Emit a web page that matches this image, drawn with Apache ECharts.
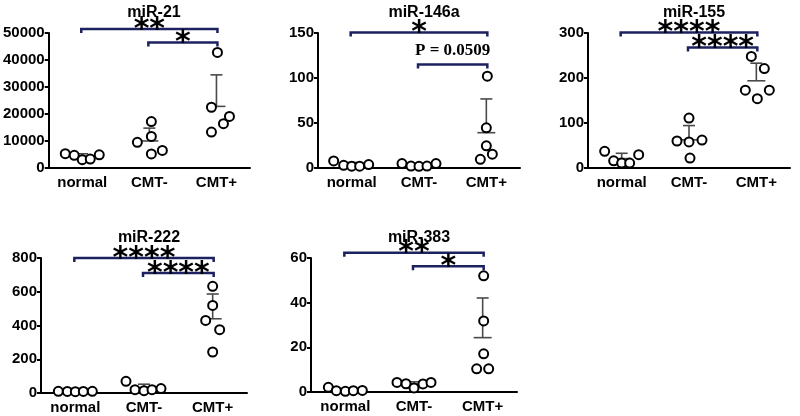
<!DOCTYPE html>
<html>
<head>
<meta charset="utf-8">
<script src="https://cdn.jsdelivr.net/npm/echarts@6/dist/echarts.min.js"></script>
<style>html,body{margin:0;padding:0;background:#fff}#c{width:800px;height:416px}</style>
</head>
<body>
<div id="c"></div>
<script>
// ---------- data ----------
const categories = ['normal', 'CMT-', 'CMT+'];
const titles = ['miR-21', 'miR-146a', 'miR-155', 'miR-222', 'miR-383'];

const mir21_normal = [5300, 4700, 3100, 3300, 4900];
const mir21_cmtMinus = [9500, 11700, 17200, 5200, 6500];
const mir21_cmtPlus = [42800, 22500, 13300, 16400, 19100];

const mir146a_normal = [7.8, 3.0, 2.0, 2.0, 3.8];
const mir146a_cmtMinus = [4.9, 2.2, 1.9, 2.2, 4.9];
const mir146a_cmtPlus = [102, 44.6, 24.6, 9.7, 15.3];

const mir155_normal = [37, 16, 11, 11, 29.6];
const mir155_cmtMinus = [111, 60, 58, 62, 22];
const mir155_cmtPlus = [248, 221, 173, 173, 154];

const mir222_normal = [10, 9, 8, 9, 10];
const mir222_cmtMinus = [69, 20, 14, 20, 26];
const mir222_cmtPlus = [632, 519, 430, 375, 243];

const mir383_normal = [2.1, 0.6, 0.3, 0.6, 0.7];
const mir383_cmtMinus = [4.3, 3.7, 1.8, 3.6, 4.3];
const mir383_cmtPlus = [52, 31.8, 17.1, 10.4, 10.4];

// y-axis tick settings
const yMax = [50000, 150, 300, 800, 60];
const yStep = [10000, 50, 100, 200, 20];

// significance annotations: [fromCat, toCat, level, label]
const sig21 = [[0, 2, 51500, '**'], [1, 2, 46500, '*']];
const sig146a = [[0, 2, 150.5, '*'], [1, 2, 115, 'P = 0.0509']];
const sig155 = [[0, 2, 301, '****'], [1, 2, 268, '****']];
const sig222 = [[0, 2, 800, '****'], [1, 2, 711, '****']];
const sig383 = [[0, 2, 62.4, '**'], [1, 2, 56.3, '*']];

// ---------- layout / style ----------
const panels = [
  [mir21_normal, mir21_cmtMinus, mir21_cmtPlus],
  [mir146a_normal, mir146a_cmtMinus, mir146a_cmtPlus],
  [mir155_normal, mir155_cmtMinus, mir155_cmtPlus],
  [mir222_normal, mir222_cmtMinus, mir222_cmtPlus],
  [mir383_normal, mir383_cmtMinus, mir383_cmtPlus]
];
const sigs = [sig21, sig146a, sig155, sig222, sig383];
// horizontal jitter in pixels (scatter spread)
const jitter = [
  [[-17, -8, 0, 8, 17], [-12, 2, 2, 2, 13], [1, -5, -5, 7, 13]],
  [[-18, -8, 0, 8, 17], [-17, -8, 0, 8, 17], [1, 0, 0, -6, 6]],
  [[-17, -8, 0, 8, 17], [0, -12, 0, 13, 1], [-5, 8, -11, 13, 1]],
  [[-17, -8, 0, 8, 17], [-18, -9, 0, 8, 17], [0, 0, -7, 7, 0]],
  [[-17, -9, 0, 8, 17], [-17, -8, 0, 9, 17], [1, 1, 1, -6, 6]]
];
const grids = [
  { left: 48, top: 33, width: 202, height: 135 },
  { left: 318, top: 33, width: 202, height: 135 },
  { left: 588, top: 33, width: 202, height: 135 },
  { left: 41, top: 258, width: 206, height: 135 },
  { left: 311, top: 258, width: 206, height: 134 }
];
const titleTop = [0, 0, 0, 225, 225];
const NAVY = '#1c2160';
const FONT = 'Liberation Sans, Arial, sans-serif';

function mean(a) { return a.reduce((s, v) => s + v, 0) / a.length; }
function sd(a) { const m = mean(a); return Math.sqrt(a.reduce((s, v) => s + (v - m) * (v - m), 0) / (a.length - 1)); }

const option = {
  backgroundColor: '#fff',
  animation: false,
  title: [], grid: [], xAxis: [], yAxis: [], series: []
};

panels.forEach((groups, i) => {
  const g = grids[i];
  option.grid.push(g);
  option.title.push({
    text: titles[i], left: g.left + g.width / 2, top: titleTop[i], textAlign: 'center',
    textStyle: { fontFamily: FONT, fontWeight: 'bold', fontSize: 16, color: '#000' }
  });
  option.xAxis.push({
    type: 'category', gridIndex: i, data: categories, boundaryGap: true,
    axisLine: { lineStyle: { color: '#000', width: 2 } },
    axisTick: { alignWithLabel: true, length: 4, lineStyle: { color: '#000', width: 2 } },
    axisLabel: { color: '#000', fontFamily: FONT, fontWeight: 'bold', fontSize: 15, margin: 7 },
    splitLine: { show: false }
  });
  option.yAxis.push({
    type: 'value', gridIndex: i, min: 0, max: yMax[i], interval: yStep[i],
    axisLine: { show: true, lineStyle: { color: '#000', width: 2 } },
    axisTick: { show: true, length: 4, lineStyle: { color: '#000', width: 2 } },
    axisLabel: { color: '#000', fontFamily: FONT, fontWeight: 'bold', fontSize: 15, margin: 4,
      formatter: v => String(v) },
    splitLine: { show: false }
  });
  // error bars (mean + upper SD)
  option.series.push({
    type: 'custom', xAxisIndex: i, yAxisIndex: i, z: 2,
    data: groups.map((vals, c) => [c, mean(vals), mean(vals) + sd(vals)]),
    renderItem: function (params, api) {
      const m = api.coord([api.value(0), api.value(1)]);
      const t = api.coord([api.value(0), api.value(2)]);
      const st = { stroke: '#4a4a4a', lineWidth: 1.6, fill: null };
      return {
        type: 'group', children: [
          { type: 'line', shape: { x1: m[0] - 9, y1: m[1], x2: m[0] + 9, y2: m[1] }, style: st },
          { type: 'line', shape: { x1: m[0], y1: m[1], x2: t[0], y2: t[1] }, style: st },
          { type: 'line', shape: { x1: t[0] - 6, y1: t[1], x2: t[0] + 6, y2: t[1] }, style: st }
        ]
      };
    }
  });
  // points
  const pts = [];
  groups.forEach((vals, c) => vals.forEach((v, k) => pts.push({ value: [c, v], symbolOffset: [jitter[i][c][k], 0] })));
  option.series.push({
    type: 'scatter', xAxisIndex: i, yAxisIndex: i, z: 3,
    symbol: 'circle', symbolSize: 9,
    itemStyle: { color: '#fff', borderColor: '#000', borderWidth: 2, opacity: 1 },
    data: pts
  });
  // significance brackets
  option.series.push({
    type: 'custom', xAxisIndex: i, yAxisIndex: i, z: 4, clip: false,
    data: sigs[i].map(s => [s[0], s[1], s[2]]),
    renderItem: function (params, api) {
      const s = sigs[i][params.dataIndex];
      const p1 = api.coord([api.value(0), api.value(2)]);
      const p2 = api.coord([api.value(1), api.value(2)]);
      const isP = s[3].indexOf('P') === 0;
      const mid = (p1[0] + p2[0]) / 2;
      return {
        type: 'group', children: [
          { type: 'polyline', shape: { points: [[p1[0] - 1, p1[1] + 4], [p1[0] - 1, p1[1]], [p2[0] + 1, p2[1]], [p2[0] + 1, p2[1] + 4]] },
            style: { stroke: NAVY, lineWidth: 2.5, fill: null } },
          { type: 'text', z2: 10, style: {
              text: s[3],
              x: mid, y: isP ? p1[1] - 14 : p1[1] + 1,
              align: 'center', verticalAlign: 'middle',
              fontFamily: isP ? 'Liberation Serif, Times New Roman, serif' : 'DejaVu Sans',
              fontWeight: 'bold', fontSize: isP ? 17 : 30, fill: '#000'
            } }
        ]
      };
    }
  });
});

const chart = echarts.init(document.getElementById('c'), null, { renderer: 'canvas' });
chart.setOption(option);
</script>
</body>
</html>
